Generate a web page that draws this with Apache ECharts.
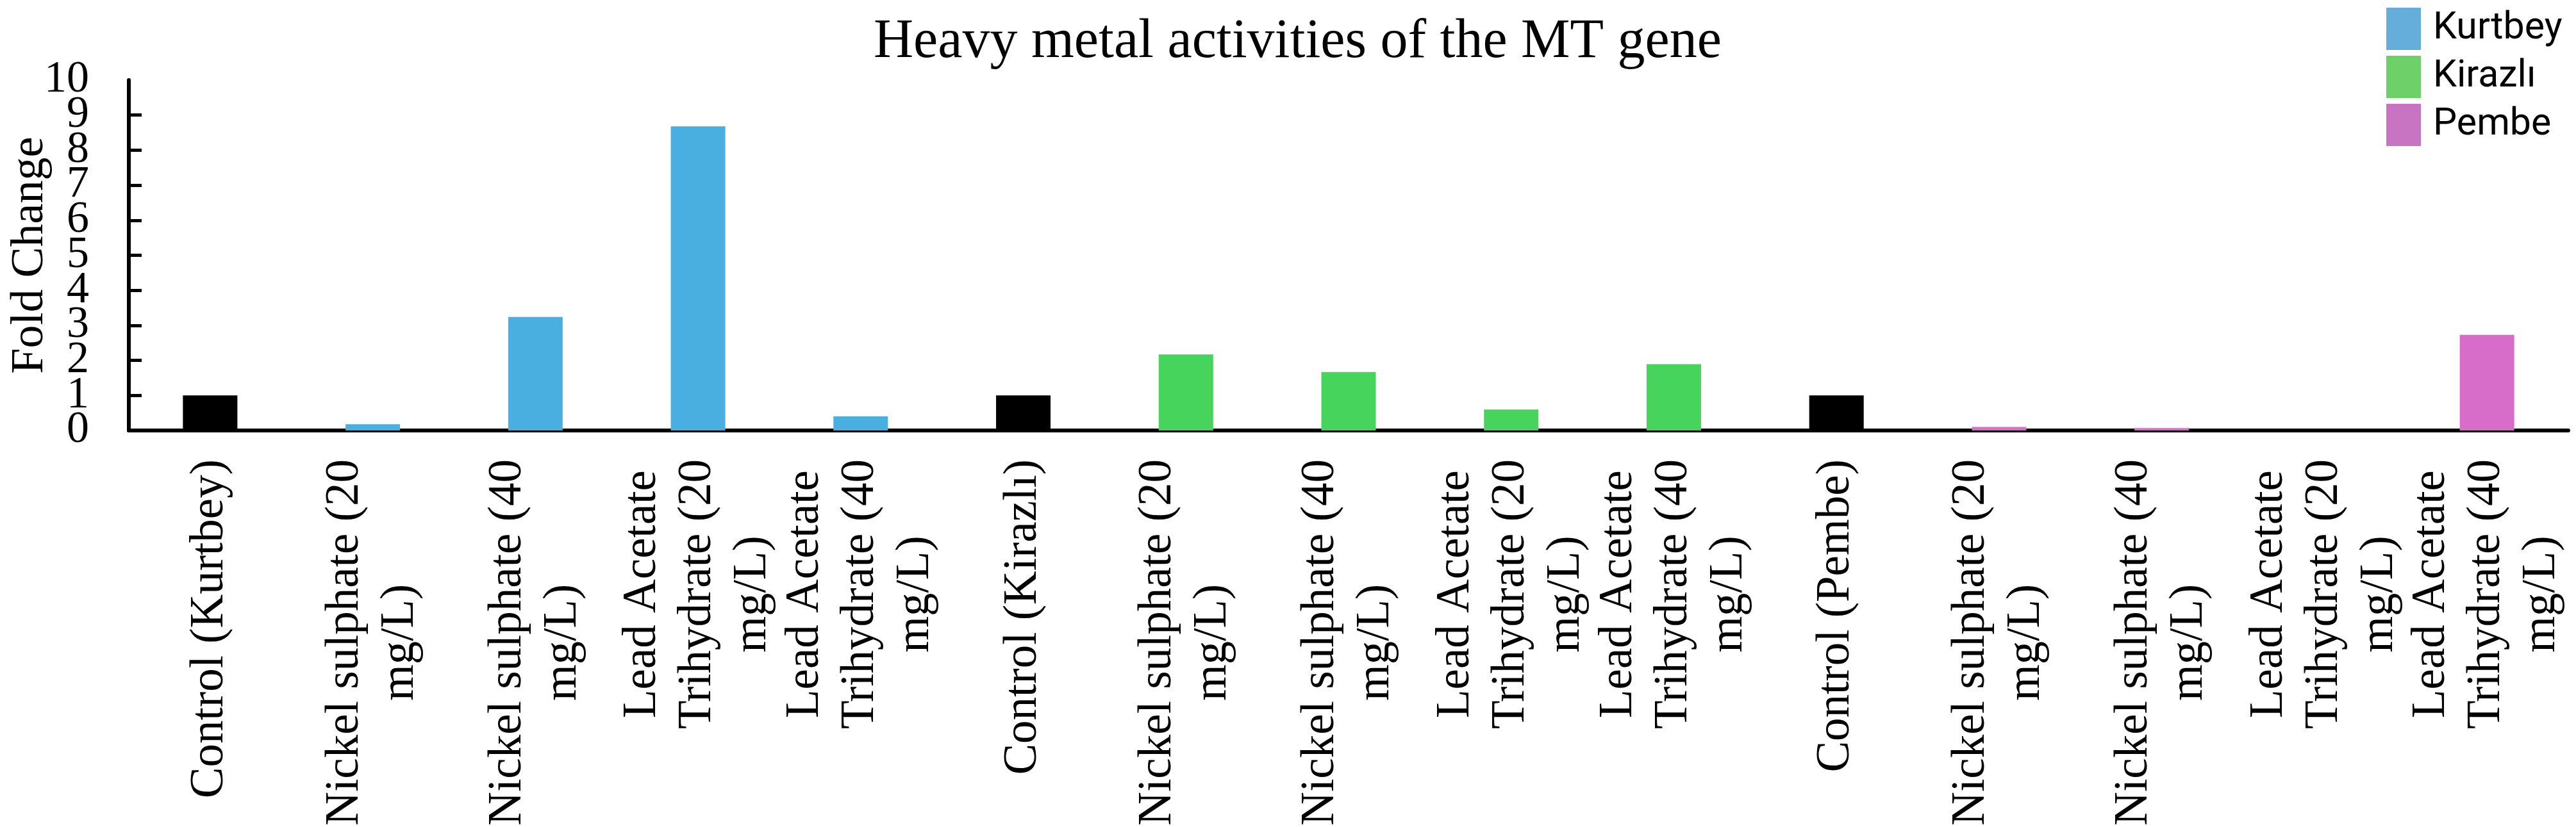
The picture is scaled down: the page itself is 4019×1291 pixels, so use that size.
<!DOCTYPE html>
<html>
<head>
<meta charset="utf-8">
<script src="https://cdn.jsdelivr.net/npm/echarts@6/dist/echarts.min.js"></script>
<style>
  html, body { margin: 0; padding: 0; background: #fff; }
  #chart { width: 4019px; height: 1291px; }
</style>
</head>
<body>
<div id="chart"></div>
<script>
// categories (line breaks as in the figure)
var categories = [
  'Control (Kurtbey)',
  'Nickel sulphate (20\nmg/L)',
  'Nickel sulphate (40\nmg/L)',
  'Lead Acetate\nTrihydrate (20\nmg/L)',
  'Lead Acetate\nTrihydrate (40\nmg/L)',
  'Control (Kirazlı)',
  'Nickel sulphate (20\nmg/L)',
  'Nickel sulphate (40\nmg/L)',
  'Lead Acetate\nTrihydrate (20\nmg/L)',
  'Lead Acetate\nTrihydrate (40\nmg/L)',
  'Control (Pembe)',
  'Nickel sulphate (20\nmg/L)',
  'Nickel sulphate (40\nmg/L)',
  'Lead Acetate\nTrihydrate (20\nmg/L)',
  'Lead Acetate\nTrihydrate (40\nmg/L)'
];
var varieties = ['Kurtbey', 'Kirazlı', 'Pembe'];
var controlValues = [1, 1, 1];
var kurtbeyValues = [0.18, 3.24, 8.68, 0.40];
var kirazliValues = [2.17, 1.67, 0.60, 1.89];
var pembeValues = [0.10, 0.07, 0, 2.73];
var yMin = 0, yMax = 10, yStep = 1;

var serif = '"Liberation Serif", "Times New Roman", serif';

function place(vals, start, step) {
  var arr = categories.map(function () { return '-'; });
  vals.forEach(function (v, i) { arr[start + i * step] = v; });
  return arr;
}

var yLabelStyle = { fontFamily: serif, fontSize: 70, color: '#000', margin: 62 };

var myChart = echarts.init(document.getElementById('chart'));
var option = {
  backgroundColor: '#fff',
  animation: false,
  title: {
    text: 'Heavy metal activities of the MT gene',
    left: 1358,
    top: 18,
    textStyle: { fontFamily: serif, fontSize: 86, fontWeight: 'normal', color: '#000' }
  },
  legend: {
    orient: 'vertical',
    left: 3718,
    top: 7,
    itemWidth: 54,
    itemHeight: 66,
    itemGap: 9,
    icon: 'rect',
    textStyle: { fontFamily: 'Roboto', fontSize: 59, color: '#000', padding: [0, 0, 0, 14] },
    data: [
      { name: varieties[0], itemStyle: { color: '#65aedb' } },
      { name: varieties[1], itemStyle: { color: '#6dd069' } },
      { name: varieties[2], itemStyle: { color: '#c874c3' } }
    ]
  },
  grid: { left: 201, right: 12, top: 125, bottom: 619, containLabel: false, outerBoundsMode: 'none' },
  xAxis: {
    type: 'category',
    data: categories,
    axisLine: { lineStyle: { color: '#000', width: 6 } },
    axisTick: { inside: true, length: 19, lineStyle: { color: '#000', width: 5 } },
    axisLabel: {
      interval: 0,
      rotate: 90,
      margin: 45,
      color: '#000',
      formatter: function (v) {
        return v.split('\n').map(function (s) { return '{c|' + s + '}'; }).join('\n');
      },
      rich: {
        c: { align: 'center', fontFamily: serif, fontSize: 73, lineHeight: 86, color: '#000' }
      }
    }
  },
  yAxis: [
    {
      // main axis: line, ticks, inner labels 1..9
      type: 'value',
      min: yMin,
      max: yMax,
      interval: yStep,
      name: 'Fold Change',
      nameLocation: 'middle',
      nameGap: 118,
      nameTextStyle: { fontFamily: serif, fontSize: 72, color: '#000' },
      splitLine: { show: false },
      axisLine: { show: true, lineStyle: { color: '#000', width: 6 } },
      axisTick: { show: true, inside: true, length: 20, lineStyle: { color: '#000', width: 5 } },
      axisLabel: Object.assign({ showMinLabel: false, showMaxLabel: false }, yLabelStyle)
    },
    {
      // end labels 0 and 10 (they overlap their neighbours, as in the figure)
      type: 'value',
      position: 'left',
      min: yMin,
      max: yMax,
      interval: yMax - yMin,
      splitLine: { show: false },
      axisLine: { show: false },
      axisTick: { show: false },
      axisLabel: yLabelStyle
    }
  ],
  series: [
    {
      name: 'Control', type: 'bar', stack: 'all', barWidth: '33.5%',
      itemStyle: { color: '#000' },
      data: place(controlValues, 0, 5)
    },
    {
      name: varieties[0], type: 'bar', stack: 'all', barWidth: '33.5%',
      itemStyle: { color: '#48afe0' },
      data: place(kurtbeyValues, 1, 1)
    },
    {
      name: varieties[1], type: 'bar', stack: 'all', barWidth: '33.5%',
      itemStyle: { color: '#47d45c' },
      data: place(kirazliValues, 6, 1)
    },
    {
      name: varieties[2], type: 'bar', stack: 'all', barWidth: '33.5%',
      itemStyle: { color: '#d86cc9' },
      data: place(pembeValues, 11, 1)
    }
  ]
};
myChart.clear();
myChart.setOption(option);
window.addEventListener('resize', () => { myChart.resize() });
</script>
</body>
</html>
